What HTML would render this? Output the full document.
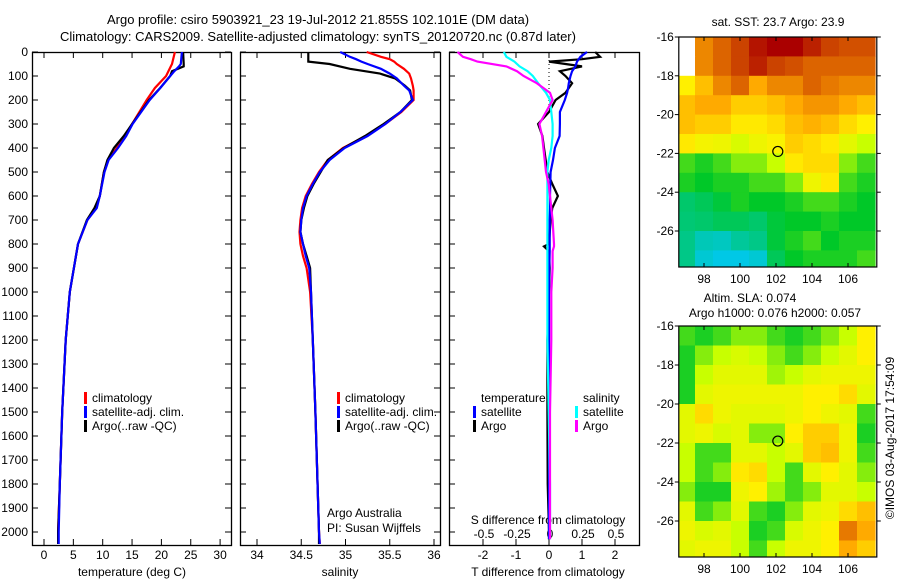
<!DOCTYPE html>
<html><head><meta charset="utf-8">
<style>
html,body{margin:0;padding:0;background:#fff;}
svg{display:block;font-family:"Liberation Sans",sans-serif;font-size:12px;}
</style></head>
<body>
<svg id="fig" width="900" height="580" viewBox="0 0 900 580" xmlns="http://www.w3.org/2000/svg">
<text x="318" y="24" text-anchor="middle" font-size="13">Argo profile: csiro 5903921_23 19-Jul-2012 21.855S 102.101E (DM data)</text>
<text x="318" y="41" text-anchor="middle" font-size="13">Climatology: CARS2009. Satellite-adjusted climatology: synTS_20120720.nc (0.87d later)</text>
<g id="g"></g>
</svg>
<script>
// ---------- data ----------
const depthT = [0,50,60,80,100,150,200,300,350,400,450,500,600,650,700,800,900,1000,1200,1500,1800,2000,2050];
const tempClim = [22.3,21.8,21.6,21.2,20.8,18.9,17.5,15,13.8,12.4,10.9,10.2,9.5,8.9,7.4,5.8,5.1,4.4,3.7,3.1,2.7,2.4,2.4];
const tempSat  = [23.5,23.3,23.0,22.2,21.5,19.8,18.0,15.1,14.0,12.6,11.0,10.3,9.5,9.0,7.4,5.8,5.1,4.4,3.7,3.1,2.7,2.5,2.5];
const tempArgo = [23.7,23.8,23.8,21.8,21.5,19.8,17.9,15.0,13.6,11.9,10.8,10.2,9.5,8.6,7.3,5.8,5.1,4.4,3.7,3.1,2.7,2.4,2.4];

const depthS = [0,20,30,40,50,70,90,110,140,160,200,250,300,350,400,450,500,550,600,650,700,750,800,850,900,1000,1200,1500,2000,2050];
const salClim = [35.24,35.40,35.50,35.55,35.58,35.66,35.72,35.74,35.76,35.77,35.77,35.63,35.45,35.23,34.97,34.80,34.70,34.62,34.55,34.51,34.49,34.48,34.49,34.52,34.56,34.60,34.63,34.66,34.70,34.71];
const salSat  = [34.94,35.05,35.12,35.18,35.25,35.40,35.50,35.58,35.66,35.72,35.76,35.62,35.45,35.25,34.99,34.82,34.71,34.63,34.56,34.52,34.50,34.49,34.52,34.55,34.59,34.61,34.63,34.66,34.70,34.71];
const salArgo = [34.58,34.58,34.58,34.58,34.82,35.05,35.39,35.56,35.67,35.73,35.75,35.62,35.43,35.22,34.98,34.80,34.72,34.64,34.57,34.53,34.50,34.49,34.52,34.56,34.60,34.61,34.63,34.66,34.70,34.70];

const depthD = [0,20,30,40,60,80,100,130,150,170,200,250,300,350,400,450,500,550,600,650,700,800,810,830,900,1000,1200,1500,1800,2000,2030];
const dTArgo = [1.4,1.55,1.0,0.0,1.0,0.33,0.5,0.7,0.6,0.5,0.2,0.0,-0.33,-0.2,-0.15,-0.1,-0.05,0.1,0.27,0.1,0.05,0.0,-0.15,0.0,0.02,0.0,-0.05,-0.05,-0.04,0.0,0.0];
const dTSat  = [1.15,0.95,0.9,0.85,0.8,0.7,0.65,0.6,0.58,0.55,0.48,0.33,0.33,0.32,0.18,0.12,0.05,0.04,0.03,0.03,0.02,0.02,0.02,0.02,0.01,0.0,0.0,0.0,0.0,0.0,0.0];
const dSArgo = [-0.7,-0.66,-0.6,-0.55,-0.33,-0.25,-0.2,-0.1,-0.05,0.0,0.02,-0.03,-0.08,-0.06,-0.05,-0.04,-0.03,-0.01,0.0,0.01,0.02,0.03,0.03,0.02,0.02,0.01,0.01,0.0,0.0,0.0,0.0];
const dSSat  = [-0.35,-0.33,-0.3,-0.27,-0.23,-0.17,-0.13,-0.09,-0.06,-0.03,0.0,0.01,0.02,0.02,0.01,-0.01,-0.02,-0.02,-0.02,-0.02,-0.02,-0.02,-0.02,-0.02,-0.02,-0.02,-0.02,-0.01,0.0,0.0,0.0];

const depthTicks = [0,100,200,300,400,500,600,700,800,900,1000,1100,1200,1300,1400,1500,1600,1700,1800,1900,2000];
const tempTicks = [0,5,10,15,20,25,30];
const salTicks = [34,34.5,35,35.5,36];
const dTTicks = [-2,-1,0,1,2];
const dSTicks = [-0.5,-0.25,0,0.25,0.5];

const lonCenters = [97,98,99,100,101,102,103,104,105,106,107];
const latCenters = [-16.5,-17.5,-18.5,-19.5,-20.5,-21.5,-22.5,-23.5,-24.5,-25.5,-26.5,-27.5];
const sstGrid = [
 [null,0.80,0.85,0.90,0.97,1.00,1.00,0.95,0.90,0.88,0.88],
 [null,0.80,0.85,0.90,0.95,0.90,0.88,0.85,0.85,0.85,0.85],
 [0.65,0.72,0.80,0.85,0.75,0.80,0.80,0.85,0.82,0.80,0.80],
 [0.72,0.75,0.75,0.70,0.70,0.72,0.75,0.78,0.78,0.75,0.72],
 [0.72,0.70,0.70,0.66,0.66,0.68,0.72,0.74,0.72,0.68,0.65],
 [0.66,0.63,0.62,0.58,0.62,0.64,0.70,0.68,0.66,0.60,0.55],
 [0.45,0.42,0.45,0.50,0.50,0.55,0.66,0.68,0.68,0.50,0.45],
 [0.42,0.40,0.42,0.42,0.45,0.45,0.50,0.62,0.66,0.45,0.42],
 [0.33,0.35,0.38,0.42,0.40,0.40,0.42,0.45,0.45,0.42,0.40],
 [0.32,0.33,0.35,0.35,0.33,0.38,0.40,0.40,0.42,0.40,0.40],
 [0.30,0.25,0.24,0.28,0.30,0.38,0.42,0.45,0.40,0.42,0.42],
 [0.30,0.22,0.20,0.20,0.22,0.35,0.40,0.42,0.42,0.42,0.45]];
const slaGrid = [
 [0.45,0.42,0.45,0.50,0.50,0.45,0.42,0.45,0.50,0.55,0.65],
 [0.42,0.50,0.55,0.58,0.55,0.50,0.45,0.50,0.55,0.60,0.65],
 [0.42,0.55,0.60,0.60,0.60,0.52,0.55,0.60,0.62,0.62,0.62],
 [0.42,0.60,0.62,0.62,0.62,0.62,0.62,0.65,0.65,0.68,0.60],
 [0.60,0.68,0.62,0.60,0.60,0.60,0.62,0.65,0.62,0.60,0.45],
 [0.60,0.62,0.58,0.60,0.50,0.50,0.65,0.70,0.70,0.62,0.42],
 [0.55,0.45,0.45,0.60,0.60,0.55,0.60,0.70,0.72,0.62,0.45],
 [0.55,0.45,0.50,0.66,0.68,0.55,0.45,0.60,0.65,0.60,0.50],
 [0.50,0.42,0.42,0.62,0.65,0.52,0.45,0.50,0.60,0.60,0.55],
 [0.60,0.45,0.50,0.60,0.45,0.42,0.50,0.60,0.62,0.68,0.72],
 [0.62,0.58,0.60,0.55,0.42,0.45,0.58,0.62,0.65,0.82,0.75],
 [0.60,0.62,0.62,0.55,0.45,0.55,0.62,0.62,0.65,0.75,0.70]];
const floatLon = 102.1, floatLat = -21.9;
const lonTicks = [98,100,102,104,106];
const latTicks = [-16,-18,-20,-22,-24,-26];

// ---------- helpers ----------
const NS = "http://www.w3.org/2000/svg";
const G = document.getElementById('g');
function mk(tag, attrs, parent){ const e=document.createElementNS(NS,tag); for(const k in attrs) e.setAttribute(k,attrs[k]); (parent||G).appendChild(e); return e; }
function txt(x,y,s,anchor,extra){ const t=mk('text',Object.assign({x:x,y:y,'text-anchor':anchor||'start'},extra||{})); t.textContent=s; return t; }

const TOP=52, BOT=545;
const yD = d => TOP + 0.24*d;
const xT = v => 44 + 5.87*v;
const xS = v => 257 + 88.5*(v-34);
const xdT = v => 549 + 33*v;
const xdS = v => 550 + 132*v;

function panel(x0,x1,name){
  const r=mk('rect',{x:x0+0.5,y:TOP+0.5,width:x1-x0,height:BOT-TOP,fill:'none',stroke:'#000','stroke-width':1.3});
  
  
}
function line(xs, ds, xf, color, name){
  const pts = xs.map((v,i)=> xf(v).toFixed(1)+','+yD(ds[i]).toFixed(1)).join(' ');
  const p=mk('polyline',{points:pts,fill:'none',stroke:color,'stroke-width':2.2,'stroke-linejoin':'miter'});
  
  
}
function legendEntry(x,y,color,label,name){
  const g=mk('g',{});
  
  
  if(color) mk('rect',{x:x,y:y-10,width:3,height:12,fill:color},g);
  const t=mk('text',{x:x+8,y:y},g); t.textContent=label;
}

// panels
panel(32,231,'temperature-panel');
panel(240,440,'salinity-panel');
panel(449,639,'difference-panel');

// depth ticks
depthTicks.forEach(d=>{
  const t=txt(28,yD(d)+4,String(d),'end');
  
  
  [[32,1],[231,-1],[240,1],[440,-1],[449,1]].forEach(([x,dir])=>mk('line',{x1:x,x2:x+dir*6,y1:yD(d),y2:yD(d),stroke:'#000'}));
});
// x ticks
function xticks(ticks,xf,ly,name,fmt){
  ticks.forEach(v=>{
    const x=xf(v);
    mk('line',{x1:x,x2:x,y1:TOP,y2:TOP+6,stroke:'#000'});
    mk('line',{x1:x,x2:x,y1:BOT,y2:BOT-6,stroke:'#000'});
    const t=txt(x,ly,fmt?fmt(v):String(v),'middle');
    
    
  });
}
xticks(tempTicks,xT,559,'temp-tick-label');
xticks(salTicks,xS,559,'salinity-tick-label');
xticks(dTTicks,xdT,559,'dt-tick-label');
dSTicks.forEach(v=>{const t=txt(xdS(v),538,String(v).replace('-0.','-0.'),'middle');
  
  });
let a;
a=txt(132,576,'temperature (deg C)','middle');  
a=txt(340,576,'salinity','middle');  
a=txt(548,576,'T difference from climatology','middle');  
a=txt(548,524,'S difference from climatology','middle');  

// zero dotted line
mk('line',{x1:xdT(0),x2:xdT(0),y1:TOP,y2:yD(250),stroke:'#000','stroke-dasharray':'1,3'});

// series
line(tempClim,depthT,xT,'#f00','temp-climatology-line');
line(tempArgo,depthT,xT,'#000','temp-argo-line');
line(tempSat,depthT,xT,'#00f','temp-satellite-line');
line(salClim,depthS,xS,'#f00','salinity-climatology-line');
line(salArgo,depthS,xS,'#000','salinity-argo-line');
line(salSat,depthS,xS,'#00f','salinity-satellite-line');
line(dTArgo,depthD,xdT,'#000','dt-argo-line');
line(dTSat,depthD,xdT,'#00f','dt-satellite-line');
line(dSSat,depthD,xdS,'#0ff','ds-satellite-line');
line(dSArgo,depthD,xdS,'#f0f','ds-argo-line');

// legends
legendEntry(84,402,'#f00','climatology','legend-climatology');
legendEntry(84,416,'#00f','satellite-adj. clim.','legend-satellite');
legendEntry(84,430,'#000','Argo(..raw -QC)','legend-argo');
legendEntry(337,402,'#f00','climatology','legend2-climatology');
legendEntry(337,416,'#00f','satellite-adj. clim.','legend2-satellite');
legendEntry(337,430,'#000','Argo(..raw -QC)','legend2-argo');
legendEntry(473,402,null,'temperature','legend-temperature-header');
legendEntry(473,416,'#00f','satellite','legend-dt-satellite');
legendEntry(473,430,'#000','Argo','legend-dt-argo');
legendEntry(575,402,null,'salinity','legend-salinity-header');
legendEntry(575,416,'#0ff','satellite','legend-ds-satellite');
legendEntry(575,430,'#f0f','Argo','legend-ds-argo');
a=txt(327,517,'Argo Australia');  
a=txt(327,532,'PI: Susan Wijffels');  

// ---------- maps ----------
const stops=[[0,[0,80,255]],[0.2,[0,200,230]],[0.4,[0,200,40]],[0.55,[200,255,0]],[0.65,[255,240,0]],[0.75,[255,170,0]],[0.85,[220,100,0]],[1,[170,0,0]]];
function cmap(v){
  for(let i=1;i<stops.length;i++){ if(v<=stops[i][0]){ const [a0,c0]=stops[i-1],[a1,c1]=stops[i]; const f=(v-a0)/(a1-a0);
    return 'rgb('+c0.map((c,k)=>Math.round(c+f*(c1[k]-c))).join(',')+')'; } }
  return 'rgb(170,0,0)';
}
function drawMap(grid,m,name){
  const lx = lon => m.x0 + (lon-98)*m.px;
  const ly = lat => m.y0 + (-16-lat)*m.py;
  const left=lx(96.6), right=lx(107.6), top=m.y0, bot=m.y1;
  const g=mk('g',{});
  
  
  const cid='clip'+name;
  const cp=mk('clipPath',{id:cid},g); mk('rect',{x:left,y:top,width:right-left,height:bot-top},cp);
  const cells=mk('g',{'clip-path':'url(#'+cid+')'},g);
  grid.forEach((row,i)=>row.forEach((v,j)=>{
    const x=lx(lonCenters[j]-0.5), y=ly(latCenters[i]+0.5);
    const c=mk('rect',{x:x.toFixed(1),y:y.toFixed(1),width:(m.px+0.6).toFixed(1),height:(m.py+0.6).toFixed(1),fill:v===null?'#fff':cmap(v)},cells);
    
    
  }));
  mk('rect',{x:left,y:top,width:right-left,height:bot-top,fill:'none',stroke:'#000','stroke-width':1.2},g);
  lonTicks.forEach(l=>{ const x=lx(l); mk('line',{x1:x,x2:x,y1:top,y2:top+4,stroke:'#000'},g); mk('line',{x1:x,x2:x,y1:bot,y2:bot-4,stroke:'#000'},g);
    const t=mk('text',{x:x,y:bot+16,'text-anchor':'middle'},g); t.textContent=l; });
  latTicks.forEach(l=>{ const y=ly(l); mk('line',{x1:left,x2:left-4,y1:y,y2:y,stroke:'#000'},g); mk('line',{x1:right,x2:right+4,y1:y,y2:y,stroke:'#000'},g);
    const t=mk('text',{x:left-5,y:y+4,'text-anchor':'end'},g); t.textContent=l; });
  const c=mk('circle',{cx:lx(floatLon),cy:ly(floatLat),r:5,fill:'none',stroke:'#000','stroke-width':1.2},g);
  
  
}
drawMap(sstGrid,{x0:704,px:18,y0:37,py:19.4,y1:267},'sst-map');
drawMap(slaGrid,{x0:704,px:18,y0:326,py:19.5,y1:557},'sla-map');
a=txt(778,26,'sat. SST: 23.7 Argo: 23.9','middle');  
a=txt(750,302,'Altim. SLA: 0.074','middle');  
a=txt(775,317,'Argo h1000: 0.076 h2000: 0.057','middle');  
a=txt(0,0,'©IMOS 03-Aug-2017 17:54:09','middle',{transform:'translate(894,438) rotate(-90)'});  
</script>
</body></html>
